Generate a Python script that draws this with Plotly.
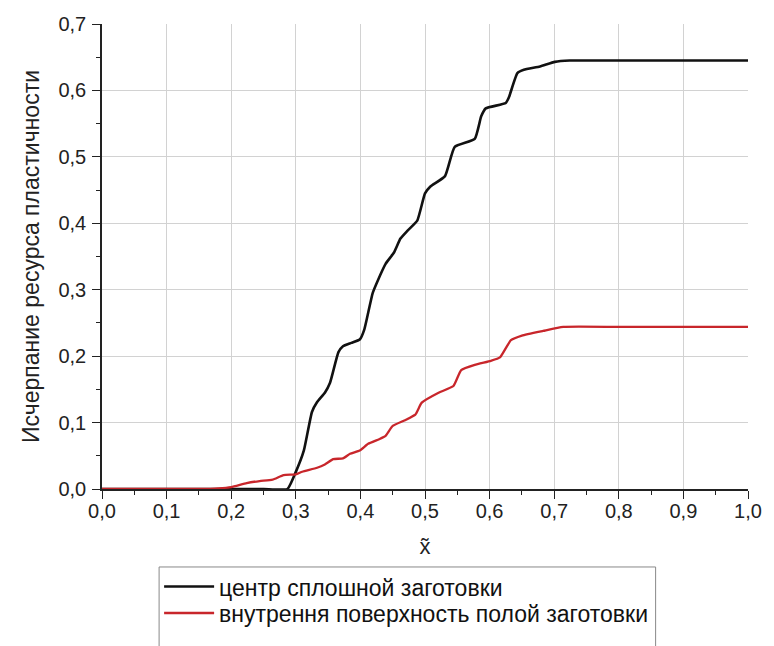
import plotly.graph_objects as go

# Black curve: центр сплошной заготовки
black_x = [0.0, 0.2, 0.25, 0.287, 0.2997, 0.3125, 0.325, 0.333, 0.345, 0.353, 0.366, 0.373,
           0.386, 0.399, 0.406, 0.419, 0.427, 0.439, 0.452, 0.462, 0.473, 0.488, 0.500,
           0.508, 0.531, 0.546, 0.577, 0.587, 0.594, 0.625, 0.630, 0.643, 0.653, 0.678,
           0.701, 0.724, 0.8, 0.9, 1.0]
black_y = [0.0, 0.0, 0.0, 0.0, 0.025, 0.058, 0.116, 0.131, 0.145, 0.160, 0.206, 0.215,
           0.220, 0.225, 0.240, 0.295, 0.314, 0.339, 0.356, 0.377, 0.389, 0.404, 0.445,
           0.455, 0.471, 0.515, 0.527, 0.561, 0.573, 0.581, 0.590, 0.626, 0.631, 0.636,
           0.643, 0.645, 0.645, 0.645, 0.645]

# Red curve: внутрення поверхность полой заготовки
red_x = [0.0, 0.15, 0.18, 0.2, 0.224, 0.244, 0.264, 0.281, 0.3, 0.31, 0.333, 0.345,
         0.358, 0.373, 0.384, 0.399, 0.412, 0.429, 0.439, 0.450, 0.470, 0.485, 0.495,
         0.521, 0.544, 0.556, 0.577, 0.602, 0.616, 0.633, 0.650, 0.683, 0.714, 0.8, 0.9, 1.0]
red_y = [0.0, 0.0, 0.001, 0.003, 0.009, 0.012, 0.014, 0.021, 0.022, 0.026, 0.032, 0.037,
         0.045, 0.046, 0.053, 0.058, 0.068, 0.075, 0.080, 0.095, 0.104, 0.112, 0.130,
         0.145, 0.155, 0.179, 0.187, 0.193, 0.198, 0.224, 0.231, 0.238, 0.244, 0.244, 0.244, 0.244]

series_names = ["центр сплошной заготовки", "внутрення поверхность полой заготовки"]
x_title = "x̃"
y_title = "Исчерпание ресурса пластичности"

FONT = "Arial, 'Liberation Sans', sans-serif"

fig = go.Figure()
fig.add_trace(go.Scatter(x=black_x, y=black_y, mode="lines", name=series_names[0],
                         legend="legend",
                         line=dict(color="#111111", width=2.6, shape="spline", smoothing=0.45)))
fig.add_trace(go.Scatter(x=red_x, y=red_y, mode="lines", name=series_names[1],
                         legend="legend2",
                         line=dict(color="#c8262b", width=2.3, shape="spline", smoothing=0.45)))

axis_common = dict(
    showline=True, linecolor="#222222", linewidth=1.6, mirror=False,
    ticks="outside", ticklen=8, tickwidth=1.4, tickcolor="#222222",
    showgrid=True, gridcolor="#d2d2d2", gridwidth=1,
    zeroline=False, tickformat=".1f",
    tickfont=dict(family=FONT, size=20, color="#222222"),
    minor=dict(ticks="outside", ticklen=4, tickwidth=1.2, tickcolor="#222222",
               dtick=0.05, showgrid=False),
)

fig.update_xaxes(range=[0, 1], dtick=0.1, tick0=0, ticklabelstandoff=-5,
                 title=dict(text=x_title, font=dict(family=FONT, size=22, color="#222222"), standoff=18),
                 **axis_common)
fig.update_yaxes(range=[0, 0.7], dtick=0.1, tick0=0, ticklabelstandoff=2,
                 title=dict(text=y_title, font=dict(family=FONT, size=23, color="#222222"), standoff=12),
                 **axis_common)

legend_style = dict(xanchor="left", yanchor="top", borderwidth=0,
                    bgcolor="rgba(0,0,0,0)",
                    font=dict(family=FONT, size=23, color="#111111"),
                    itemwidth=50)

fig.update_layout(
    width=774, height=646,
    margin=dict(l=102, r=16, t=24, b=139),
    paper_bgcolor="white", plot_bgcolor="white",
    separators=", ",
    showlegend=True,
    legend=dict(x=0.0884, y=-0.1636, **legend_style),
    legend2=dict(x=0.0884, y=-0.2205, **legend_style),
    shapes=[dict(type="rect", xref="paper", yref="paper",
                 x0=0.0884, x1=0.857, y0=-0.1677, y1=-0.45,
                 line=dict(color="#888888", width=1), fillcolor="rgba(0,0,0,0)",
                 layer="below")],
)

fig.write_html("out.html", config={"displayModeBar": False},
               post_script="document.body.style.margin='0';document.body.style.overflow='hidden';")
